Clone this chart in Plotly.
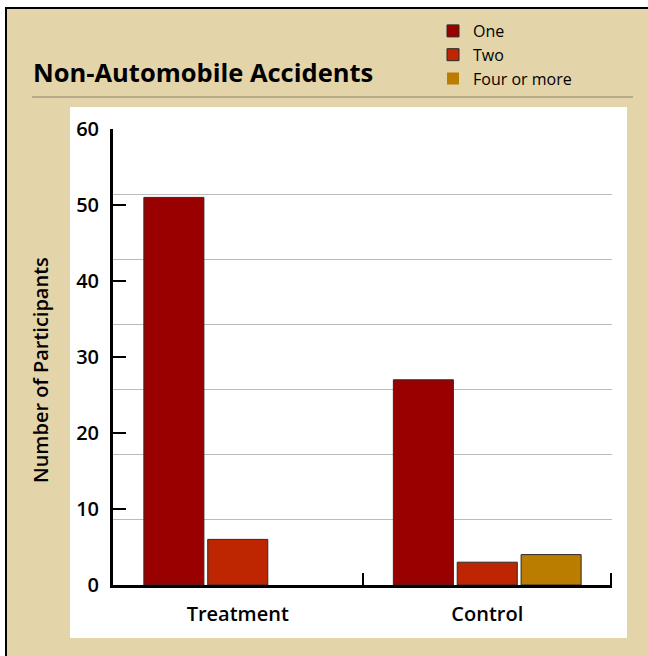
import plotly.graph_objects as go

# Participants by number of non-automobile accidents
groups = ["Treatment", "Control"]
series_names = ["One", "Two", "Four or more"]
one_accident = [51, 27]
two_accidents = [6, 3]
four_or_more = [0, 4]
series_values = [one_accident, two_accidents, four_or_more]
series_colors = ["#990000", "#BD2600", "#BB7D00"]

y_ticks = [0, 10, 20, 30, 40, 50, 60]

W, H = 648, 656
TAN = "#E4D4AA"
FONT = "Open Sans"
X0, X1 = 113, 612      # x-axis pixel extent
Y0, Y1 = 585, 129      # y-axis pixel extent (0 and 60)
TICK_LEN = 12


def px(x):
    return x / W


def py(y):
    return 1 - y / H


fig = go.Figure()
for name, vals, col in zip(series_names, series_values, series_colors):
    fig.add_trace(go.Bar(
        x=groups, y=vals, name=name, legendgroup=name,
        marker=dict(color=col,
                    line=dict(color="#2a2a2a",
                              width=[1 if v > 0 else 0 for v in vals])),
    ))

# invisible trace that carries the 0-7 scale for the light rules
fig.add_trace(go.Scatter(x=groups, y=[None, None], yaxis="y2",
                         showlegend=False, hoverinfo="skip"))

shapes = [
    # tan card with black top/left border
    dict(type="rect", xref="paper", yref="paper",
         x0=px(6), x1=px(W + 10), y0=py(H + 10), y1=py(8),
         fillcolor=TAN, line=dict(color="black", width=2), layer="below"),
    # white chart panel
    dict(type="rect", xref="paper", yref="paper",
         x0=px(70), x1=px(627), y0=py(638), y1=py(107),
         fillcolor="white", line=dict(width=0), layer="below"),
    # rule under the heading
    dict(type="line", xref="paper", yref="paper",
         x0=px(32), x1=px(633), y0=py(97), y1=py(97),
         line=dict(color="#8a8070", width=1.2)),
    # closing tick at the right end of the category axis
    dict(type="line", xref="paper", yref="paper",
         x0=px(X1 - 1), x1=px(X1 - 1), y0=py(Y0), y1=py(Y0 - TICK_LEN),
         line=dict(color="black", width=2)),
]

tick_font = dict(size=20, family=FONT, weight=600)

fig.update_layout(
    width=W, height=H,
    margin=dict(l=0, r=0, t=0, b=0, pad=0, autoexpand=False),
    paper_bgcolor="white",
    plot_bgcolor="rgba(0,0,0,0)",
    font=dict(family=FONT, color="black", size=16),
    barmode="group",
    bargap=0.232,
    bargroupgap=0.06,
    shapes=shapes,
    showlegend=True,
    legend=dict(
        x=px(433), xanchor="left", y=py(14), yanchor="top",
        bgcolor="rgba(0,0,0,0)", font=dict(size=16, family=FONT, weight=500),
        tracegroupgap=0, itemclick=False,
    ),
    xaxis=dict(
        domain=[px(X0), px(X1)], automargin=False,
        type="category", range=[-0.5, 1.5],
        showline=True, linecolor="black", linewidth=3,
        ticks="inside", tickson="boundaries", ticklen=TICK_LEN, tickwidth=2,
        tickcolor="black", showgrid=False,
        tickfont=tick_font,
        ticklabelstandoff=9,
    ),
    yaxis=dict(
        domain=[py(Y0), py(Y1)], automargin=False,
        range=[0, 60], tickvals=y_ticks,
        showline=True, linecolor="black", linewidth=3,
        ticks="inside", ticklen=13, tickwidth=2, tickcolor="black",
        showgrid=False, zeroline=False,
        tickfont=tick_font,
        ticklabelstandoff=7,
    ),
    yaxis2=dict(
        overlaying="y", range=[0, 7], dtick=1, automargin=False,
        showgrid=True, gridcolor="#BBBBBB", gridwidth=1,
        showticklabels=False, ticks="", showline=False, zeroline=False,
    ),
    annotations=[
        dict(text="<b>Non-Automobile Accidents</b>", xref="paper", yref="paper",
             x=px(31), y=py(72), xanchor="left", yanchor="middle",
             showarrow=False, font=dict(size=25.5, family=FONT)),
        dict(text="Number of Participants", xref="paper", yref="paper",
             x=px(41), y=py(370), xanchor="center", yanchor="middle",
             textangle=-90, showarrow=False,
             font=dict(size=20, family=FONT, weight=600)),
    ],
)

fig.write_html("out.html")
